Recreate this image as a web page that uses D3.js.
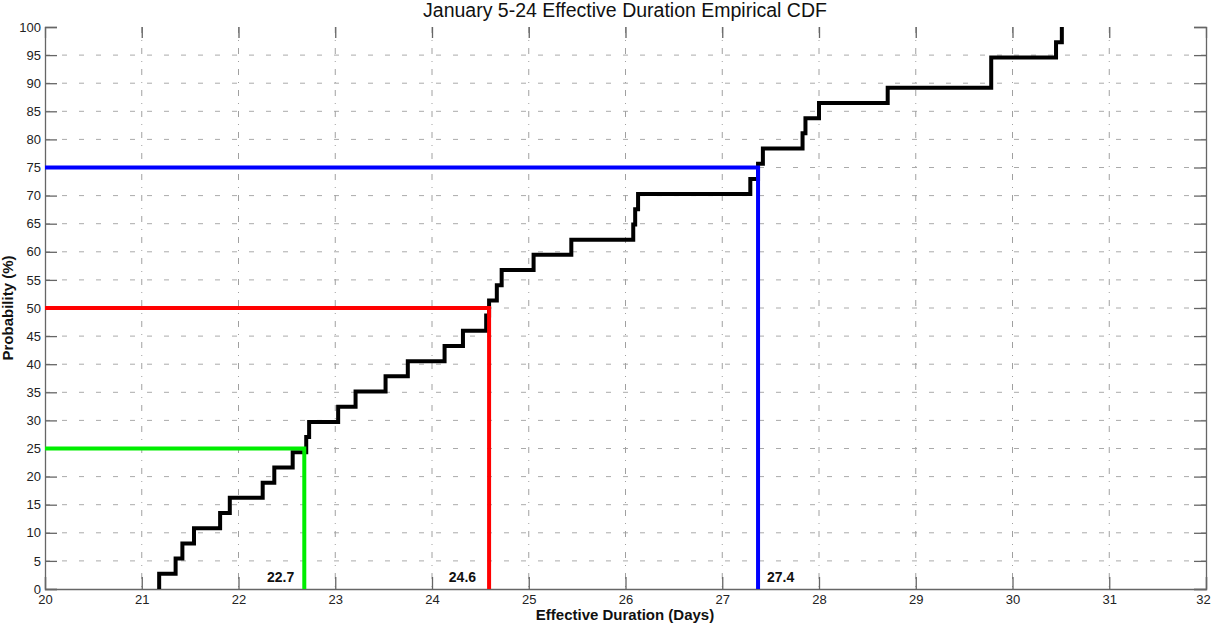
<!DOCTYPE html>
<html>
<head>
  <meta charset="UTF-8">
  <style>
    body { margin: 0; background: white; }
    svg { font-family: "Liberation Sans", Arial, sans-serif; }
    .grid line { stroke: #aaa; stroke-width: 1; stroke-dasharray: 5,12; }
    .axis path, .axis line { stroke: #666; stroke-width: 1.3; }
    .axis text { font-size: 13px; fill: #222; }
    .ecdf { fill: none; stroke: black; stroke-width: 4; }
    .quant { fill: none; stroke-width: 4; }
    .qlabel { font-size: 14px; font-weight: bold; fill: #111; }
  </style>
</head>
<body>
<svg id="chart" width="1212" height="627"></svg>

<script src="https://d3js.org/d3.v7.min.js"></script>
<script>

// sorted effective durations (days), one per observation
let durations = [21.18, 21.35, 21.42, 21.54, 21.81, 21.91, 22.25, 22.37, 22.56, 22.70,
                 22.73, 23.03, 23.21, 23.52, 23.75, 24.13, 24.32, 24.56, 24.59, 24.67,
                 24.72, 25.05, 25.44, 26.08, 26.10, 26.13, 27.29, 27.37, 27.42, 27.83,
                 27.86, 28.00, 28.71, 29.78, 29.78, 30.45, 30.51];
// cumulative probability (%) reached at each duration
let probs = [2.70, 5.41, 8.11, 10.81, 13.51, 16.22, 18.92, 21.62, 24.32, 27.03,
             29.73, 32.43, 35.14, 37.84, 40.54, 43.24, 45.95, 48.65, 51.35, 54.05,
             56.76, 59.46, 62.16, 64.86, 67.57, 70.27, 72.97, 75.68, 78.38, 81.08,
             83.78, 86.49, 89.19, 91.89, 94.59, 97.30, 100];

let quantLevels = [25, 50, 75];
let quantValues = [22.68, 24.59, 27.37];
let quantLabels = ["22.7", "24.6", "27.4"];
let quantColors = ["#00ee00", "#ff0000", "#0000ff"];

let xTicks = d3.range(20, 33, 1);
let yTicks = d3.range(0, 101, 5);

let mLeft = 45, mRight = 1206, mTop = 27, mBottom = 589;

let svg = d3.select("#chart");
svg.append("rect").attr("width", 1212).attr("height", 627).attr("fill", "white");

let x = d3.scaleLinear().domain([20, 32]).range([mLeft, mRight]);
let y = d3.scaleLinear().domain([0, 100]).range([mBottom, mTop]);

// grid
let grid = svg.append("g").attr("class", "grid");
grid.selectAll("line.h")
    .data(yTicks.filter(d => d > 0 && d < 100))
    .enter().append("line")
    .attr("x1", mLeft).attr("x2", mRight)
    .attr("y1", d => y(d)).attr("y2", d => y(d));
grid.selectAll("line.v")
    .data(xTicks.filter(d => d > 20 && d < 32))
    .enter().append("line")
    .attr("x1", d => x(d)).attr("x2", d => x(d))
    .attr("y1", mTop).attr("y2", mBottom)
    .style("stroke", "#a0a0a0")
    .style("stroke-dasharray", "6,7,1,7");

// axes with inward ticks
let xAxis = svg.append("g").attr("class", "axis")
    .attr("transform", "translate(0," + mBottom + ")")
    .call(d3.axisBottom(x).tickValues(xTicks).tickFormat(d3.format("d")).tickSize(-12).tickPadding(6));
xAxis.selectAll(".tick text").filter(d => d == 32).attr("dx", -3);
svg.append("g").attr("class", "axis")
    .attr("transform", "translate(" + mLeft + ",0)")
    .call(d3.axisLeft(y).tickValues(yTicks).tickFormat(d3.format("d")).tickSize(-12).tickPadding(4));
svg.append("g").attr("class", "axis")
    .attr("transform", "translate(" + mRight + ",0)")
    .call(d3.axisRight(y).tickValues(yTicks).tickFormat("").tickSize(-12));
let topAxis = svg.append("g").attr("class", "axis")
    .attr("transform", "translate(0," + mTop + ")")
    .call(d3.axisTop(x).tickValues(xTicks).tickFormat("").tickSize(-11));
topAxis.select(".domain").remove();

// empirical cdf
let pts = [[durations[0], 0]].concat(durations.map((d, i) => [d, probs[i]]));
let stepLine = d3.line()
    .x(d => x(d[0]))
    .y(d => y(d[1]))
    .curve(d3.curveStepAfter);
svg.append("path")
    .datum(pts)
    .attr("class", "ecdf")
    .attr("d", stepLine);

// quartile markers
quantLevels.forEach((lvl, i) => {
    let q = [[20, lvl], [quantValues[i], lvl], [quantValues[i], 0]];
    svg.append("path")
        .datum(q)
        .attr("class", "quant")
        .attr("stroke", quantColors[i])
        .attr("d", d3.line().x(d => x(d[0])).y(d => y(d[1])));
});

// quartile value labels
svg.append("text").attr("class", "qlabel")
    .attr("x", x(quantValues[0]) - 10).attr("y", 582)
    .attr("text-anchor", "end").text(quantLabels[0]);
svg.append("text").attr("class", "qlabel")
    .attr("x", x(quantValues[1]) - 13).attr("y", 582)
    .attr("text-anchor", "end").text(quantLabels[1]);
svg.append("text").attr("class", "qlabel")
    .attr("x", x(quantValues[2]) + 9).attr("y", 582)
    .attr("text-anchor", "start").text(quantLabels[2]);

// titles
svg.append("text")
    .attr("x", 625).attr("y", 17)
    .attr("text-anchor", "middle")
    .style("font-size", "19.5px").style("fill", "#111")
    .text("January 5-24 Effective Duration Empirical CDF");
svg.append("text")
    .attr("x", 625).attr("y", 620)
    .attr("text-anchor", "middle")
    .style("font-size", "15px").style("font-weight", "bold").style("fill", "#111")
    .text("Effective Duration (Days)");
svg.append("text")
    .attr("transform", "translate(13," + ((mTop + mBottom) / 2) + ") rotate(-90)")
    .attr("text-anchor", "middle")
    .style("font-size", "15px").style("font-weight", "bold").style("fill", "#111")
    .text("Probability (%)");

</script>
</body>
</html>
